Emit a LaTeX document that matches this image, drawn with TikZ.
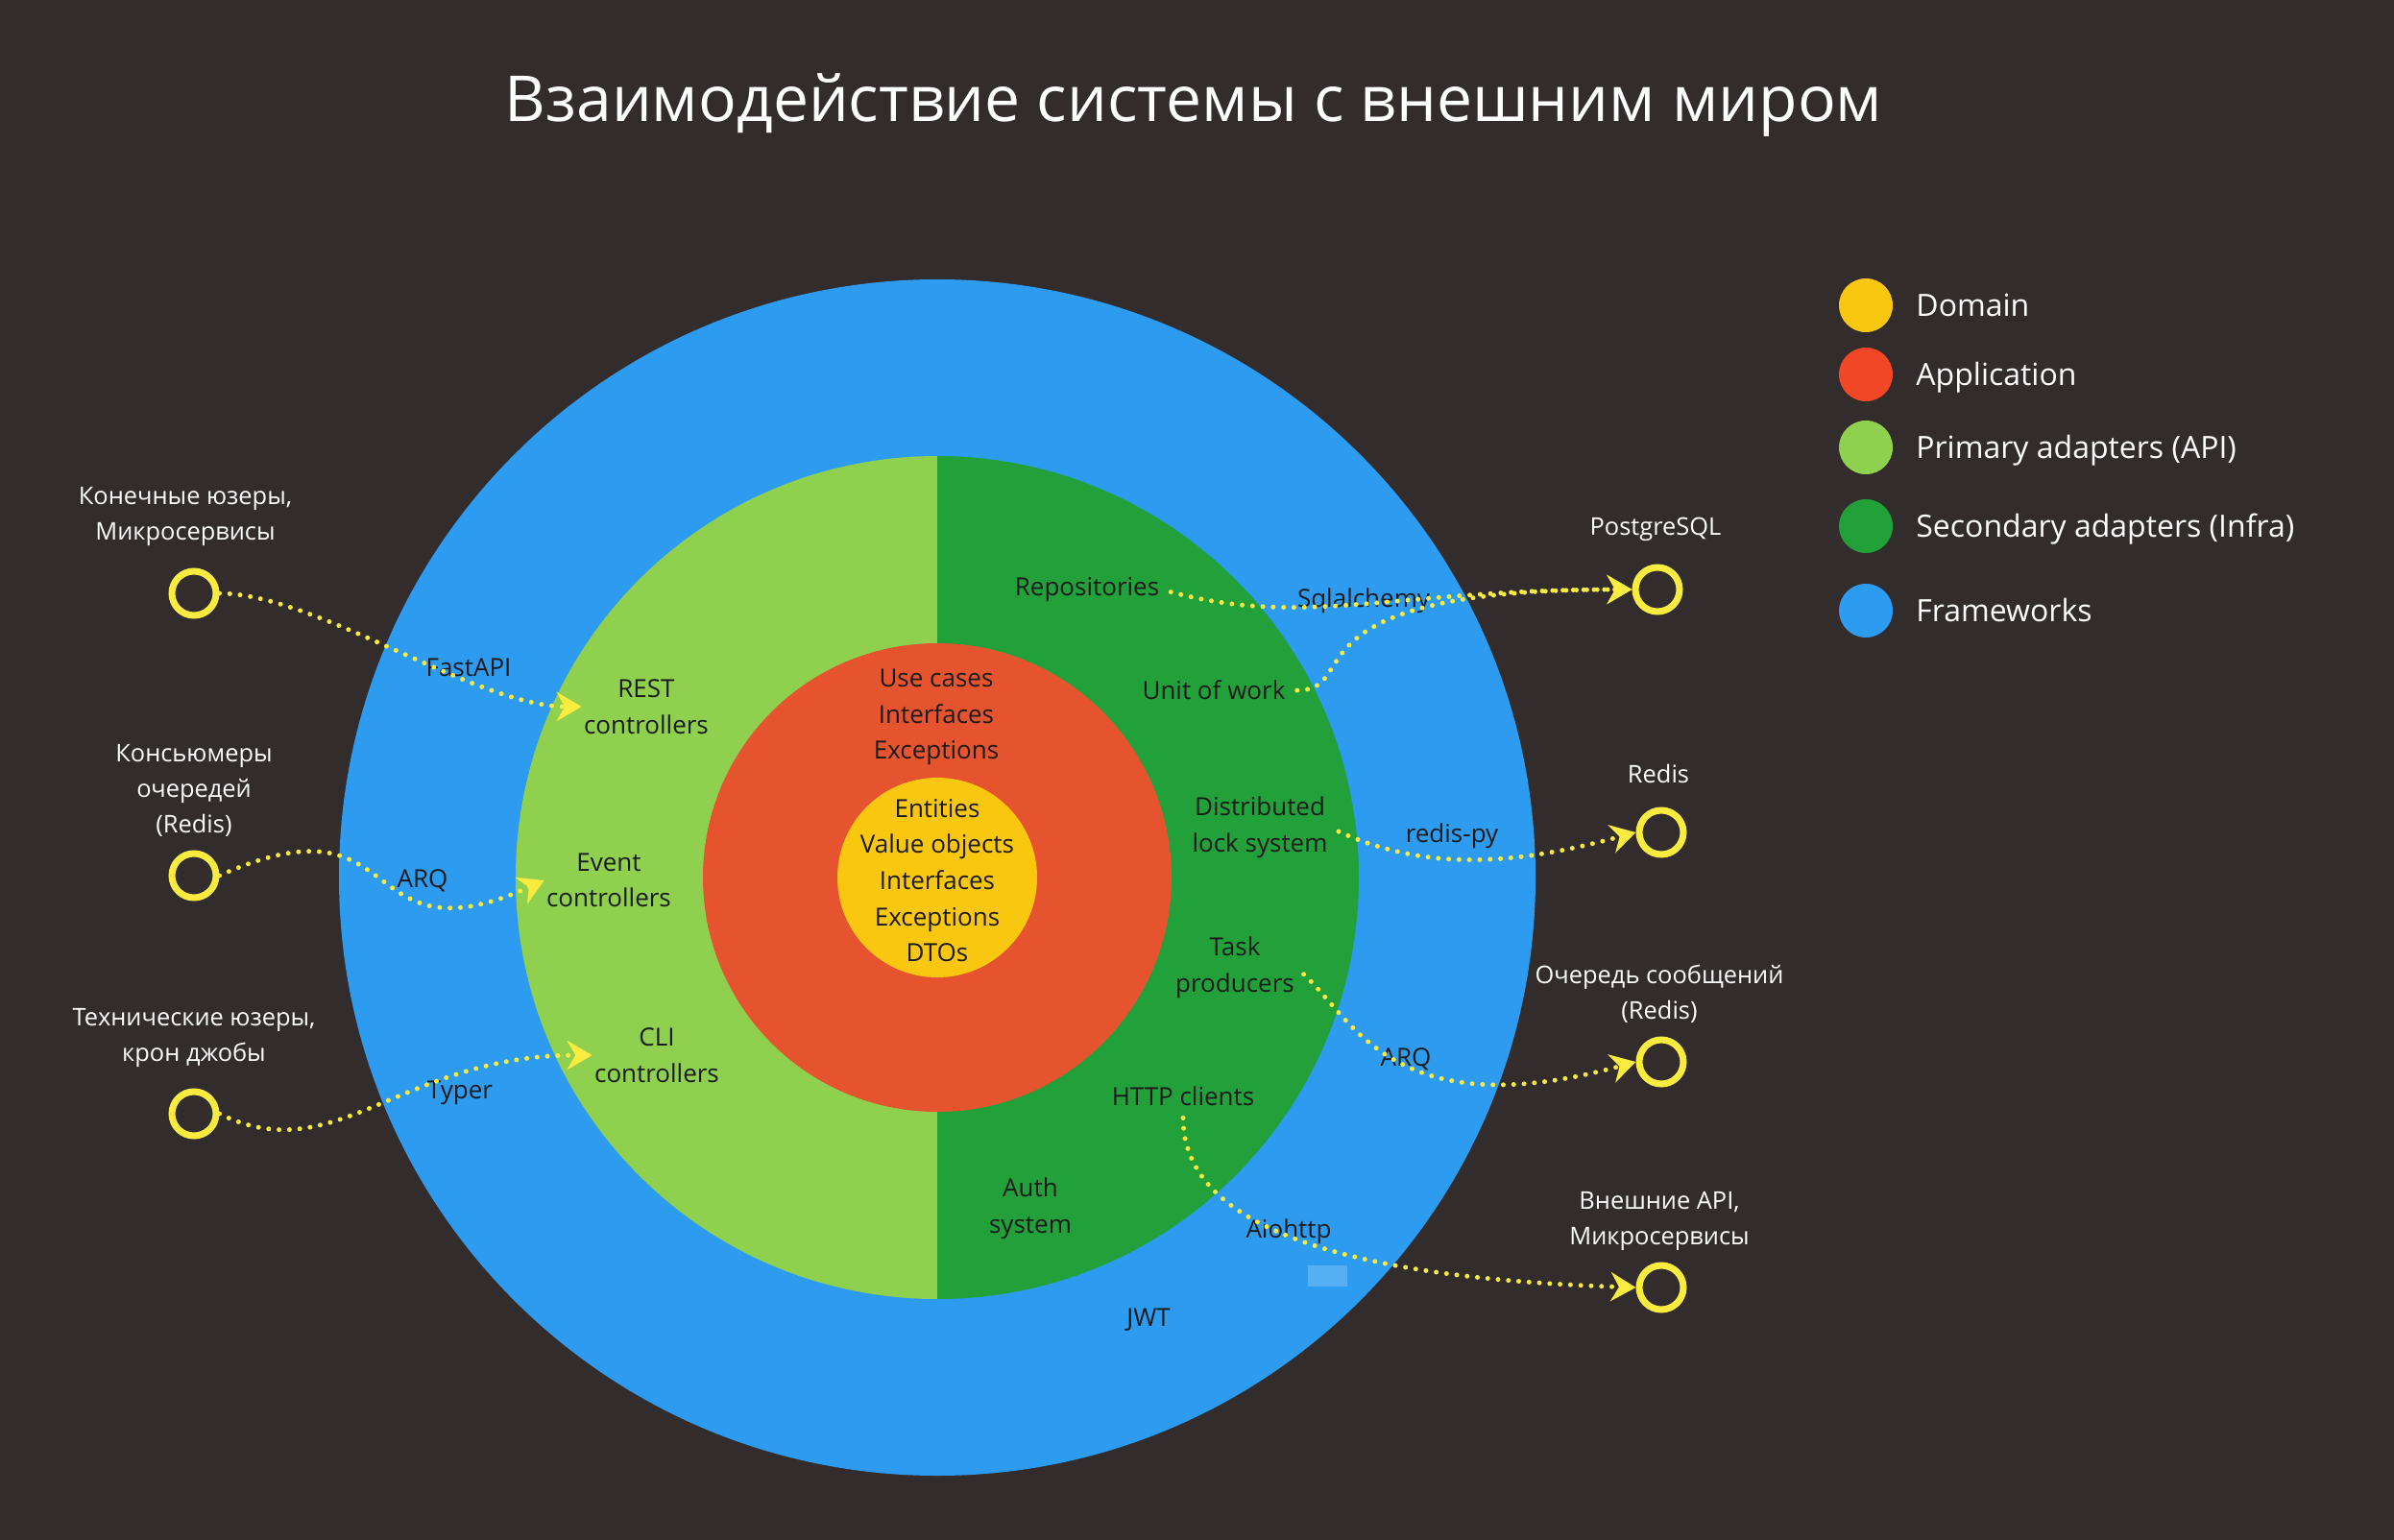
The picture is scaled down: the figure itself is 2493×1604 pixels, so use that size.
\documentclass[tikz,border=0pt]{standalone}
\usepackage{fontspec}
\setmainfont{Open Sans}
\usetikzlibrary{arrows.meta}

\definecolor{fond}{RGB}{50,44,45}
\definecolor{domaine}{RGB}{250,199,16}
\definecolor{appli}{RGB}{229,84,46}
\definecolor{applileg}{RGB}{242,71,38}
\definecolor{primaire}{RGB}{143,209,79}
\definecolor{secondaire}{RGB}{34,160,58}
\definecolor{cadre}{RGB}{45,155,240}
\definecolor{jaune}{RGB}{250,236,62}
\definecolor{encre}{RGB}{26,26,26}

\tikzset{
  etiquette/.style={text=encre,align=center,font=\fontsize{13}{18.8}\selectfont,inner sep=1pt},
  externe/.style={circle,draw=jaune,line width=3.5pt,minimum size=23pt,inner sep=0pt},
  nom/.style={text=white,align=center,font=\fontsize{12.7}{18.5}\selectfont},
  lien/.style={jaune,line width=2.5pt,line cap=round,dash pattern=on 0pt off 5.4pt,
    -{Stealth[length=13pt,width=15pt]}},
  pastille/.style={circle,fill=#1,minimum size=28pt,inner sep=0pt},
  pastille/.default={cadre},
  legende/.style={text=white,anchor=base west,font=\fontsize{16}{20}\selectfont,inner sep=0pt}
}

\begin{document}
\begin{tikzpicture}[x=0.5pt,y=-0.5pt]
\fill[fond] (0,0) rectangle (2493,1604);
\node[text=white,font=\fontsize{33}{40}\selectfont] (titre) at (1243,109) {Взаимодействие системы с внешним миром};

% les couches
\coordinate (c) at (976,914);
\fill[cadre] (c) circle[radius=623];
\begin{scope}
  \clip (c) circle[radius=439];
  \fill[primaire] (353,291) rectangle (976,1537);
  \fill[secondaire] (976,291) rectangle (1599,1537);
\end{scope}
\fill[appli] (c) circle[radius=244];
\fill[domaine] (c) circle[radius=104];
\fill[cadre!80!white] (1362,1318) rectangle (1403,1340);

\node[etiquette] (entites) at (976,917) {Entities\\Value objects\\Interfaces\\Exceptions\\DTOs};
\node[etiquette] (usecases) at (975,747) {Use cases\\Interfaces\\Exceptions};
\node[etiquette] (rest) at (673,736) {REST\\controllers};
\node[etiquette] (event) at (634,917) {Event\\controllers};
\node[etiquette] (cli) at (684,1099) {CLI\\controllers};
\node[etiquette] (repo) at (1132,614) {Repositories};
\node[etiquette] (uow) at (1264,719) {Unit of work};
\node[etiquette] (lock) at (1312,862) {Distributed\\lock system};
\node[etiquette] (task) at (1286,1008) {Task\\producers};
\node[etiquette] (http) at (1232,1142) {HTTP clients};
\node[etiquette] (auth) at (1073,1259) {Auth\\system};

% frameworks
\node[etiquette] (fastapi) at (488,695) {FastAPI};
\node[etiquette] (arqg) at (440,917) {ARQ};
\node[etiquette] (typer) at (479,1138) {Typer};
\node[etiquette] (sqla) at (1420,626) {Sqlalchemy};
\node[etiquette] (redispy) at (1512,871) {redis-py};
\node[etiquette] (arqd) at (1464,1103) {ARQ};
\node[etiquette] (aiohttp) at (1342,1283) {Aiohttp};
\node[etiquette] (jwt) at (1196,1375) {JWT};

% le monde exterieur
\node[externe] (users) at (202,618) {};
\node[externe] (consumers) at (202,912) {};
\node[externe] (cron) at (202,1160) {};
\node[externe] (pg) at (1726,614) {};
\node[externe] (redis) at (1730,867) {};
\node[externe] (queue) at (1730,1106) {};
\node[externe] (api) at (1730,1341) {};
\node[nom] (usersnom) at (193,538) {Конечные юзеры,\\Микросервисы};
\node[nom] (consumersnom) at (202,823) {Консьюмеры\\очередей\\(Redis)};
\node[nom] (cronnom) at (202,1081) {Технические юзеры,\\крон джобы};
\node[nom] (pgnom) at (1724,551) {PostgreSQL};
\node[nom] (redisnom) at (1727,806) {Redis};
\node[nom] (queuenom) at (1728,1035) {Очередь сообщений\\(Redis)};
\node[nom] (apinom) at (1728,1272) {Внешние API,\\Микросервисы};

\draw[lien] (users.east) .. controls +(100,0) and +(-110,0) .. (rest.west);
\draw[lien] (consumers.east) .. controls +(200,-90) and +(-200,90) .. (event.west);
\draw[lien] (cron.east) .. controls +(120,60) and +(-200,0) .. (cli.west);
\draw[lien,shorten <=5pt] (repo.east) .. controls +(150,40) and +(-250,0) .. (pg.west);
\draw[lien,shorten <=5pt] (uow.east) .. controls +(80,0) and +(-370,0) .. (pg.west);
\draw[lien,shorten <=5pt] (lock.east) .. controls +(100,45) and +(-130,35) .. (redis.west);
\draw[lien,shorten <=5pt] (task.east) .. controls +(60,55) and +(-253,69) .. (queue.west);
\draw[lien,shorten <=5pt] (http.south) .. controls +(0,125) and +(-300,-10) .. (api.west);

% legende
\foreach \y/\col/\txt in {318/domaine/Domain, 390/applileg/Application, 466/primaire/Primary adapters (API),
    548/secondaire/Secondary adapters (Infra), 636/cadre/Frameworks}{
  \node[pastille=\col] (pastille\y) at (1943,\y) {};
  \node[legende] (legende\y) at (1995,\y+11.5) {\txt};
}
\end{tikzpicture}
\end{document}
